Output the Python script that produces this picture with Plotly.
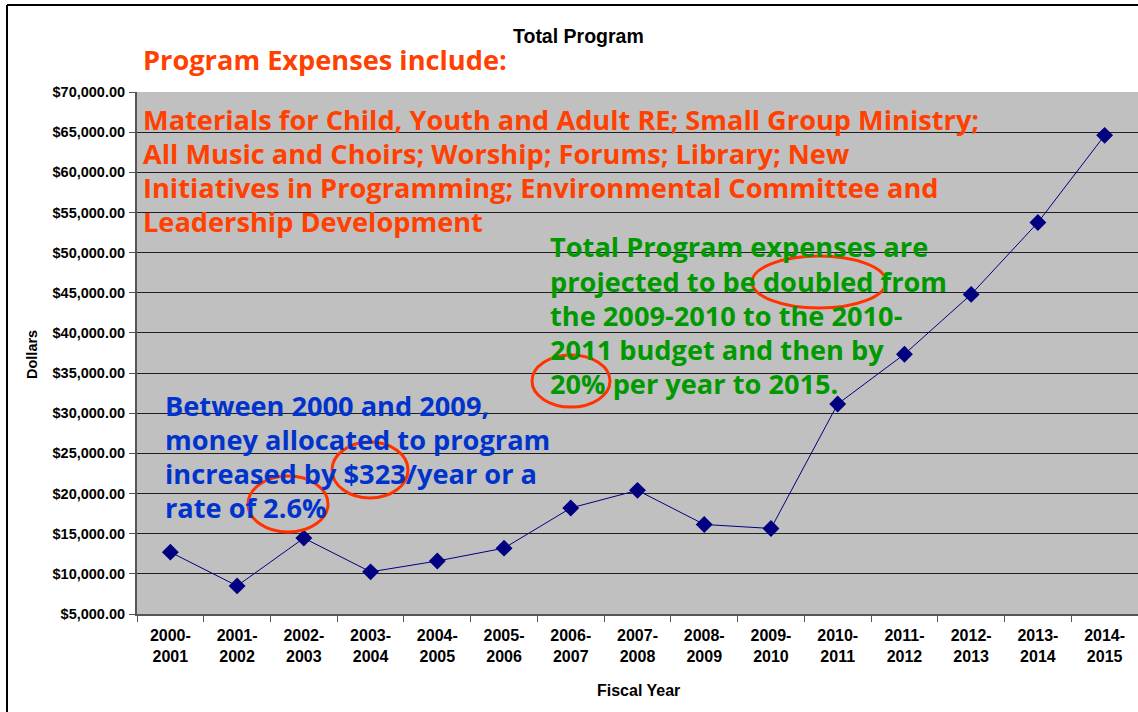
import plotly.graph_objects as go

categories = ["2000-<br>2001", "2001-<br>2002", "2002-<br>2003", "2003-<br>2004", "2004-<br>2005",
              "2005-<br>2006", "2006-<br>2007", "2007-<br>2008", "2008-<br>2009", "2009-<br>2010",
              "2010-<br>2011", "2011-<br>2012", "2012-<br>2013", "2013-<br>2014", "2014-<br>2015"]
values = [12700, 8500, 14450, 10250, 11600, 13200, 18200, 20400, 16150, 15650,
          31150, 37350, 44800, 53750, 64600]

orange_lines = ["Materials for Child, Youth and Adult RE; Small Group Ministry;",
                "All Music and Choirs; Worship; Forums; Library; New",
                "Initiatives in Programming; Environmental Committee and",
                "Leadership Development"]
green_lines = ["Total Program expenses are",
               "projected to be doubled from",
               "the 2009-2010 to the 2010-",
               "2011 budget and then by",
               "20% per year to 2015."]
blue_lines = ["Between 2000 and 2009,",
              "money allocated to program",
              "increased by $323/year or a",
              "rate of 2.6%"]

W, H = 1138, 712
L, T, B, R = 137, 92, 98, 0
PW, PH = W - L - R, H - T - B


def px(x):
    return (x - L) / PW


def py(y):
    return (H - B - y) / PH


ORANGE = "#FF4000"
GREEN = "#009900"
BLUE = "#0033CC"
TEXTFONT = "Open Sans"
TS = 27.2
LS = 34.2

fig = go.Figure()
fig.add_trace(go.Scatter(
    x=categories, y=values, mode="lines+markers",
    line=dict(color="#000080", width=1),
    marker=dict(symbol="diamond", size=13, color="#000080"),
    showlegend=False, hoverinfo="skip"))

annotations = []


def add_text(text, x, y, color, size, family=TEXTFONT, weight="bold", anchor="left", angle=0):
    annotations.append(dict(
        text=text, x=px(x), y=py(y), xref="paper", yref="paper",
        xanchor=anchor, yanchor="middle", showarrow=False, textangle=angle,
        font=dict(family=family, size=size, color=color, weight=weight)))


add_text("Total Program", 578, 36, "black", 19.5, family="Liberation Sans", anchor="center")
add_text("Program Expenses include:", 141, 60, ORANGE, TS)
for i, t in enumerate(orange_lines):
    add_text(t, 141, 119 + i * LS, ORANGE, TS)
for i, t in enumerate(green_lines):
    add_text(t, 548, 247 + i * LS, GREEN, TS)
for i, t in enumerate(blue_lines):
    add_text(t, 163, 405 + i * LS, BLUE, TS)
add_text("Dollars", 32, 355, "black", 14.5, family="Liberation Sans", anchor="center", angle=-90)
add_text("Fiscal Year", 638, 690, "black", 16, family="Liberation Sans", anchor="center")

shapes = []
ellipses = [(819, 282, 134, 52), (571, 381, 78, 52), (370, 470, 76, 56), (288, 504, 80, 56)]
for cx, cy, w, h in ellipses:
    shapes.append(dict(type="circle", xref="paper", yref="paper",
                       x0=px(cx - w / 2), x1=px(cx + w / 2), y0=py(cy + h / 2), y1=py(cy - h / 2),
                       line=dict(color="#FF3300", width=3)))
# outer frame
shapes.append(dict(type="line", xref="paper", yref="paper", x0=px(7), x1=px(7), y0=py(5), y1=py(712),
                   line=dict(color="black", width=2)))
shapes.append(dict(type="line", xref="paper", yref="paper", x0=px(7), x1=px(1138), y0=py(5), y1=py(5),
                   line=dict(color="black", width=2)))

fig.update_layout(
    width=W, height=H, autosize=False,
    margin=dict(l=L, r=R, t=T, b=B),
    paper_bgcolor="white", plot_bgcolor="#C0C0C0",
    annotations=annotations, shapes=shapes,
    xaxis=dict(type="category", range=[-0.5, len(categories) - 0.5], showgrid=False,
               showline=True, linecolor="#555555", linewidth=2,
               ticks="outside", tickson="boundaries", ticklen=6, tickcolor="#555555",
               ticklabelstandoff=6,
               tickfont=dict(family="Liberation Sans", size=16, color="black", weight="bold"),
               zeroline=False, fixedrange=True),
    yaxis=dict(range=[5000, 70000], dtick=5000, tickformat="$,.2f",
               showgrid=True, gridcolor="#202020", gridwidth=1,
               showline=True, linecolor="#555555", linewidth=2,
               ticks="outside", ticklen=6, tickcolor="#555555",
               ticklabelstandoff=1,
               tickfont=dict(family="Liberation Sans", size=14.5, color="black", weight="bold"),
               zeroline=False, fixedrange=True),
)

fig.write_html("out.html", config={"displayModeBar": False},
               post_script="document.body.style.margin='0';")
